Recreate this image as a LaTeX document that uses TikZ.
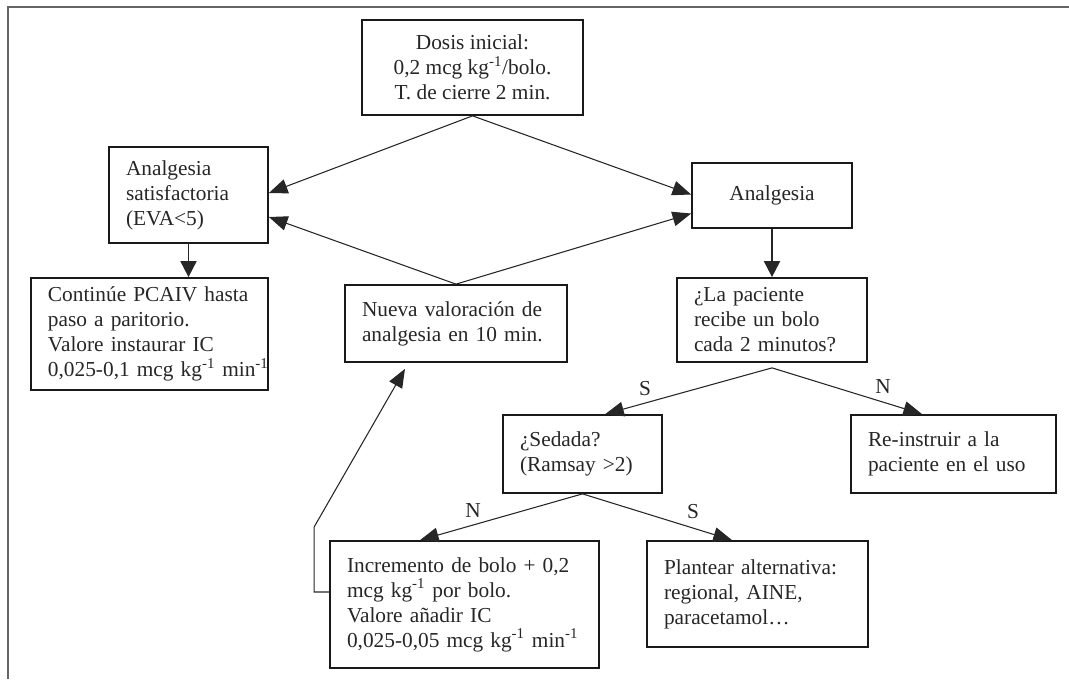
\documentclass[tikz,border=0pt]{standalone}
\usepackage{fontspec}
\setmainfont{Liberation Serif}
\usetikzlibrary{arrows.meta,calc}
\newcommand\fz{\fontsize{16}{18.75}\selectfont}
\tikzset{
  box/.style={draw=black!90, line width=1.3pt, inner xsep=0pt, inner ysep=0pt, font=\fz, text=black!85},
  lbox/.style 2 args={box, minimum width=#1*0.75pt, minimum height=#2*0.75pt, text width=#1*0.75pt, align=left, execute at begin node={\leftskip=12.75pt\rightskip=-14pt plus 1fil\hyphenpenalty=10000\exhyphenpenalty=10000}},
  cbox/.style 2 args={box, minimum width=#1*0.75pt, minimum height=#2*0.75pt, align=center},
  con/.style={line width=0.8pt, draw=black!85, -{Triangle[length=14pt,width=11pt]}},
  vcon/.style={line width=1.4pt, draw=black!85, -{Triangle[length=12pt,width=12pt]}},
  yn/.style={font=\fz, text=black!85, inner sep=0pt}
}
\begin{document}
\begin{tikzpicture}[x=0.75pt,y=-0.75pt]
\useasboundingbox (0,0) rectangle (1069,679);
\draw[black!60, line width=1.1pt] (8,679) -- (8,7) -- (1069,7);

\node[cbox={221}{95}] (dosis) at (472.5,67.5) {Dosis inicial:\\0,2 mcg kg\textsuperscript{-1}/bolo.\\T. de cierre 2 min.};
\node[lbox={159}{96}] (ansat) at (188.5,195) {Analgesia\\satisfactoria\\(EVA<5)};
\node[lbox={237}{112}] (cont) at (149.5,334) {Continúe PCAIV hasta\\paso a paritorio.\\Valore instaurar IC\\0,025-0,1~mcg~kg\textsuperscript{-1}~min\textsuperscript{-1}};
\node[lbox={222}{77}] (nueva) at (456,323.5) {Nueva valoración de\\analgesia en 10 min.};
\node[cbox={160}{65}] (analr) at (772,195.5) {Analgesia};
\node[lbox={190}{84}] (lapac) at (772,320) {¿La paciente\\recibe un bolo\\cada 2 minutos?};
\node[lbox={159}{78}] (sedada) at (582.5,454) {¿Sedada?\\(Ramsay >2)};
\node[lbox={205}{78}] (reinst) at (953.5,454) {Re-instruir a la\\paciente en el uso};
\node[lbox={269}{127}] (incr) at (464.5,604.5) {Incremento de bolo + 0,2\\mcg kg\textsuperscript{-1} por bolo.\\Valore añadir IC\\0,025-0,05~mcg~kg\textsuperscript{-1}~min\textsuperscript{-1}};
\node[lbox={221}{106}] (plan) at (757.5,594) {Plantear alternativa:\\regional, AINE,\\paracetamol…};

\draw[con] (dosis.south) -- ([yshift=1.5pt]ansat.east);
\draw[con] (dosis.south) -- ([yshift=0.75pt]analr.west);
\draw[con] (nueva.north) -- ([yshift=-16.5pt]ansat.east);
\draw[con] (nueva.north) -- ([yshift=-13.5pt]analr.west);
\draw[vcon] (ansat.south) -- (ansat.south |- cont.north);
\draw[vcon] (analr.south) -- (lapac.north);

\coordinate (apex) at ([yshift=-3.75pt]lapac.south);
\draw[con] (apex) -- ([xshift=17pt]sedada.north);
\draw[con] (apex) -- ([xshift=-23.6pt]reinst.north);
\draw[con] (sedada.south) -- ([xshift=-33.4pt]incr.north);
\draw[con] (sedada.south) -- ([xshift=-19.1pt]plan.north);
\draw[con] ([yshift=9.4pt]incr.west) -- ++(-15,0) -- ++(0,-65) -- ([xshift=-38.25pt,yshift=-4.5pt]nueva.south);

\node[yn] (s1) at (645,389) {S};
\node[yn] (n1) at (883,387) {N};
\node[yn] (n2) at (473,511) {N};
\node[yn] (s2) at (693,512) {S};
\end{tikzpicture}
\end{document}
